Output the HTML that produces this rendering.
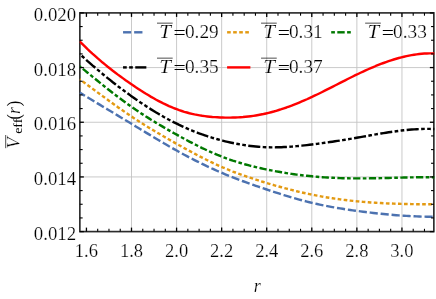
<!DOCTYPE html>
<html><head><meta charset="utf-8"><title>plot</title>
<style>
html,body{margin:0;padding:0;background:#fff;}
svg{display:block;}
text{font-family:"Liberation Serif",serif;font-size:18px;fill:#000;}
.th{stroke:#fff;stroke-width:0.2px;}
.it{font-style:italic;}
</style></head><body>
<svg width="436" height="299" viewBox="0 0 436 299">
<rect width="436" height="299" fill="#fff"/>

<g stroke="#c4c4c4" stroke-width="0.9" fill="none">
<line x1="131.50" y1="12.9" x2="131.50" y2="231.6"/>
<line x1="176.58" y1="12.9" x2="176.58" y2="231.6"/>
<line x1="221.65" y1="12.9" x2="221.65" y2="231.6"/>
<line x1="266.72" y1="12.9" x2="266.72" y2="231.6"/>
<line x1="311.79" y1="12.9" x2="311.79" y2="231.6"/>
<line x1="356.87" y1="12.9" x2="356.87" y2="231.6"/>
<line x1="401.94" y1="12.9" x2="401.94" y2="231.6"/>
<line x1="79.85" y1="176.93" x2="433.85" y2="176.93"/>
<line x1="79.85" y1="122.25" x2="433.85" y2="122.25"/>
<line x1="79.85" y1="67.58" x2="433.85" y2="67.58"/>
</g>
<rect x="79.85" y="12.9" width="354.00" height="218.70" fill="none" stroke="#2c2c2c" stroke-width="1.65"/>
<clipPath id="c"><rect x="79.65" y="12.9" width="354.90" height="218.70"/></clipPath>
<g clip-path="url(#c)" fill="none" stroke-linecap="butt" stroke-linejoin="round">
<path d="M79.6,92.58 L82.2,94.13 L84.8,95.67 L87.3,97.22 L89.9,98.76 L92.4,100.30 L95.0,101.83 L97.5,103.37 L100.1,104.90 L102.6,106.43 L105.2,107.97 L107.7,109.50 L110.3,111.03 L112.8,112.56 L115.4,114.10 L117.9,115.63 L120.5,117.17 L123.1,118.70 L125.6,120.24 L128.2,121.78 L130.7,123.32 L133.3,124.87 L135.8,126.41 L138.4,127.96 L140.9,129.51 L143.5,131.06 L146.0,132.60 L148.6,134.14 L151.1,135.68 L153.7,137.21 L156.2,138.73 L158.8,140.25 L161.4,141.76 L163.9,143.26 L166.5,144.74 L169.0,146.22 L171.6,147.68 L174.1,149.12 L176.7,150.55 L179.2,151.97 L181.8,153.37 L184.3,154.75 L186.9,156.11 L189.4,157.46 L192.0,158.78 L194.5,160.09 L197.1,161.38 L199.7,162.66 L202.2,163.91 L204.8,165.14 L207.3,166.36 L209.9,167.55 L212.4,168.73 L215.0,169.88 L217.5,171.01 L220.1,172.13 L222.6,173.22 L225.2,174.29 L227.7,175.34 L230.3,176.37 L232.8,177.38 L235.4,178.37 L238.0,179.35 L240.5,180.31 L243.1,181.26 L245.6,182.20 L248.2,183.12 L250.7,184.02 L253.3,184.92 L255.8,185.81 L258.4,186.69 L260.9,187.56 L263.5,188.42 L266.0,189.27 L268.6,190.12 L271.1,190.96 L273.7,191.80 L276.2,192.62 L278.8,193.44 L281.4,194.25 L283.9,195.05 L286.5,195.83 L289.0,196.61 L291.6,197.37 L294.1,198.11 L296.7,198.84 L299.2,199.56 L301.8,200.25 L304.3,200.93 L306.9,201.59 L309.4,202.23 L312.0,202.85 L314.5,203.45 L317.1,204.02 L319.7,204.58 L322.2,205.12 L324.8,205.63 L327.3,206.14 L329.9,206.62 L332.4,207.09 L335.0,207.54 L337.5,207.98 L340.1,208.40 L342.6,208.81 L345.2,209.21 L347.7,209.60 L350.3,209.98 L352.8,210.34 L355.4,210.70 L358.0,211.05 L360.5,211.39 L363.1,211.72 L365.6,212.04 L368.2,212.36 L370.7,212.66 L373.3,212.96 L375.8,213.25 L378.4,213.52 L380.9,213.79 L383.5,214.05 L386.0,214.30 L388.6,214.54 L391.1,214.76 L393.7,214.98 L396.3,215.18 L398.8,215.38 L401.4,215.56 L403.9,215.73 L406.5,215.89 L409.0,216.04 L411.6,216.17 L414.1,216.29 L416.7,216.40 L419.2,216.50 L421.8,216.59 L424.3,216.66 L426.9,216.71 L429.4,216.76 L432.0,216.79 L434.6,216.80" stroke="#4C72B0" stroke-width="2.42" stroke-dasharray="8.15,2.85" stroke-dashoffset="1.9"/>
<path d="M79.6,79.25 L82.2,81.11 L84.8,82.98 L87.3,84.85 L89.9,86.73 L92.4,88.61 L95.0,90.49 L97.5,92.36 L100.1,94.24 L102.6,96.11 L105.2,97.97 L107.7,99.83 L110.3,101.68 L112.8,103.52 L115.4,105.35 L117.9,107.16 L120.5,108.96 L123.1,110.74 L125.6,112.51 L128.2,114.25 L130.7,115.97 L133.3,117.67 L135.8,119.35 L138.4,121.00 L140.9,122.64 L143.5,124.25 L146.0,125.85 L148.6,127.43 L151.1,128.99 L153.7,130.53 L156.2,132.06 L158.8,133.58 L161.4,135.08 L163.9,136.57 L166.5,138.04 L169.0,139.51 L171.6,140.97 L174.1,142.41 L176.7,143.85 L179.2,145.29 L181.8,146.71 L184.3,148.13 L186.9,149.53 L189.4,150.92 L192.0,152.30 L194.5,153.66 L197.1,155.01 L199.7,156.34 L202.2,157.65 L204.8,158.94 L207.3,160.21 L209.9,161.46 L212.4,162.69 L215.0,163.89 L217.5,165.06 L220.1,166.21 L222.6,167.33 L225.2,168.42 L227.7,169.48 L230.3,170.51 L232.8,171.52 L235.4,172.50 L238.0,173.46 L240.5,174.40 L243.1,175.32 L245.6,176.21 L248.2,177.09 L250.7,177.95 L253.3,178.79 L255.8,179.62 L258.4,180.43 L260.9,181.23 L263.5,182.02 L266.0,182.79 L268.6,183.56 L271.1,184.31 L273.7,185.06 L276.2,185.79 L278.8,186.51 L281.4,187.22 L283.9,187.92 L286.5,188.60 L289.0,189.27 L291.6,189.93 L294.1,190.57 L296.7,191.20 L299.2,191.82 L301.8,192.41 L304.3,193.00 L306.9,193.56 L309.4,194.11 L312.0,194.64 L314.5,195.15 L317.1,195.65 L319.7,196.13 L322.2,196.59 L324.8,197.04 L327.3,197.46 L329.9,197.88 L332.4,198.27 L335.0,198.65 L337.5,199.02 L340.1,199.37 L342.6,199.70 L345.2,200.02 L347.7,200.33 L350.3,200.62 L352.8,200.89 L355.4,201.16 L358.0,201.40 L360.5,201.64 L363.1,201.86 L365.6,202.07 L368.2,202.27 L370.7,202.45 L373.3,202.63 L375.8,202.79 L378.4,202.94 L380.9,203.08 L383.5,203.22 L386.0,203.34 L388.6,203.45 L391.1,203.55 L393.7,203.65 L396.3,203.73 L398.8,203.81 L401.4,203.88 L403.9,203.95 L406.5,204.01 L409.0,204.06 L411.6,204.10 L414.1,204.14 L416.7,204.18 L419.2,204.21 L421.8,204.23 L424.3,204.25 L426.9,204.27 L429.4,204.28 L432.0,204.29 L434.6,204.30" stroke="#E39A12" stroke-width="2.42" stroke-dasharray="3.63,2.42" stroke-dashoffset="2.4"/>
<path d="M79.6,66.24 L82.2,68.32 L84.8,70.40 L87.3,72.48 L89.9,74.56 L92.4,76.64 L95.0,78.72 L97.5,80.78 L100.1,82.84 L102.6,84.89 L105.2,86.93 L107.7,88.95 L110.3,90.96 L112.8,92.95 L115.4,94.92 L117.9,96.87 L120.5,98.79 L123.1,100.70 L125.6,102.58 L128.2,104.42 L130.7,106.24 L133.3,108.03 L135.8,109.79 L138.4,111.52 L140.9,113.21 L143.5,114.89 L146.0,116.53 L148.6,118.15 L151.1,119.75 L153.7,121.32 L156.2,122.87 L158.8,124.40 L161.4,125.91 L163.9,127.41 L166.5,128.89 L169.0,130.35 L171.6,131.80 L174.1,133.23 L176.7,134.65 L179.2,136.07 L181.8,137.47 L184.3,138.85 L186.9,140.22 L189.4,141.58 L192.0,142.91 L194.5,144.23 L197.1,145.52 L199.7,146.80 L202.2,148.05 L204.8,149.27 L207.3,150.46 L209.9,151.63 L212.4,152.77 L215.0,153.87 L217.5,154.94 L220.1,155.98 L222.6,156.98 L225.2,157.94 L227.7,158.87 L230.3,159.77 L232.8,160.63 L235.4,161.46 L238.0,162.26 L240.5,163.03 L243.1,163.77 L245.6,164.48 L248.2,165.17 L250.7,165.83 L253.3,166.47 L255.8,167.09 L258.4,167.68 L260.9,168.26 L263.5,168.82 L266.0,169.36 L268.6,169.88 L271.1,170.39 L273.7,170.88 L276.2,171.35 L278.8,171.81 L281.4,172.26 L283.9,172.68 L286.5,173.09 L289.0,173.49 L291.6,173.87 L294.1,174.23 L296.7,174.58 L299.2,174.91 L301.8,175.22 L304.3,175.52 L306.9,175.80 L309.4,176.07 L312.0,176.32 L314.5,176.55 L317.1,176.77 L319.7,176.98 L322.2,177.17 L324.8,177.34 L327.3,177.50 L329.9,177.64 L332.4,177.78 L335.0,177.89 L337.5,178.00 L340.1,178.09 L342.6,178.17 L345.2,178.24 L347.7,178.29 L350.3,178.34 L352.8,178.37 L355.4,178.39 L358.0,178.40 L360.5,178.40 L363.1,178.40 L365.6,178.38 L368.2,178.35 L370.7,178.32 L373.3,178.28 L375.8,178.24 L378.4,178.18 L380.9,178.13 L383.5,178.07 L386.0,178.01 L388.6,177.95 L391.1,177.88 L393.7,177.81 L396.3,177.75 L398.8,177.68 L401.4,177.61 L403.9,177.55 L406.5,177.49 L409.0,177.43 L411.6,177.38 L414.1,177.33 L416.7,177.29 L419.2,177.25 L421.8,177.22 L424.3,177.20 L426.9,177.19 L429.4,177.18 L432.0,177.19 L434.6,177.21" stroke="#007800" stroke-width="2.42" stroke-dasharray="7.26,2.42,3.63,2.42" stroke-dashoffset="11.6"/>
<path d="M79.6,53.92 L82.2,56.24 L84.8,58.54 L87.3,60.82 L89.9,63.07 L92.4,65.30 L95.0,67.50 L97.5,69.68 L100.1,71.83 L102.6,73.95 L105.2,76.05 L107.7,78.13 L110.3,80.17 L112.8,82.20 L115.4,84.20 L117.9,86.17 L120.5,88.11 L123.1,90.03 L125.6,91.93 L128.2,93.79 L130.7,95.64 L133.3,97.45 L135.8,99.24 L138.4,101.00 L140.9,102.73 L143.5,104.44 L146.0,106.11 L148.6,107.76 L151.1,109.37 L153.7,110.96 L156.2,112.51 L158.8,114.03 L161.4,115.51 L163.9,116.97 L166.5,118.38 L169.0,119.77 L171.6,121.11 L174.1,122.42 L176.7,123.70 L179.2,124.93 L181.8,126.13 L184.3,127.29 L186.9,128.42 L189.4,129.51 L192.0,130.56 L194.5,131.58 L197.1,132.57 L199.7,133.52 L202.2,134.44 L204.8,135.33 L207.3,136.18 L209.9,137.00 L212.4,137.79 L215.0,138.55 L217.5,139.28 L220.1,139.98 L222.6,140.65 L225.2,141.30 L227.7,141.91 L230.3,142.49 L232.8,143.04 L235.4,143.56 L238.0,144.05 L240.5,144.51 L243.1,144.93 L245.6,145.32 L248.2,145.68 L250.7,146.01 L253.3,146.30 L255.8,146.55 L258.4,146.77 L260.9,146.96 L263.5,147.11 L266.0,147.23 L268.6,147.30 L271.1,147.35 L273.7,147.35 L276.2,147.33 L278.8,147.27 L281.4,147.19 L283.9,147.08 L286.5,146.94 L289.0,146.78 L291.6,146.59 L294.1,146.38 L296.7,146.16 L299.2,145.91 L301.8,145.65 L304.3,145.38 L306.9,145.09 L309.4,144.79 L312.0,144.48 L314.5,144.16 L317.1,143.83 L319.7,143.49 L322.2,143.15 L324.8,142.79 L327.3,142.43 L329.9,142.07 L332.4,141.69 L335.0,141.31 L337.5,140.92 L340.1,140.52 L342.6,140.12 L345.2,139.71 L347.7,139.29 L350.3,138.87 L352.8,138.44 L355.4,138.00 L358.0,137.56 L360.5,137.12 L363.1,136.67 L365.6,136.21 L368.2,135.76 L370.7,135.31 L373.3,134.86 L375.8,134.42 L378.4,133.98 L380.9,133.55 L383.5,133.13 L386.0,132.72 L388.6,132.32 L391.1,131.94 L393.7,131.57 L396.3,131.22 L398.8,130.88 L401.4,130.57 L403.9,130.28 L406.5,130.01 L409.0,129.76 L411.6,129.55 L414.1,129.36 L416.7,129.19 L419.2,129.07 L421.8,128.97 L424.3,128.91 L426.9,128.88 L429.4,128.89 L432.0,128.94 L434.6,129.03" stroke="#000000" stroke-width="2.42" stroke-dasharray="3.63,2.42,3.63,2.42,12.10,2.42" stroke-dashoffset="3.3"/>
<path d="M79.6,41.30 L82.2,43.87 L84.8,46.39 L87.3,48.86 L89.9,51.27 L92.4,53.62 L95.0,55.93 L97.5,58.18 L100.1,60.39 L102.6,62.55 L105.2,64.66 L107.7,66.73 L110.3,68.76 L112.8,70.76 L115.4,72.71 L117.9,74.63 L120.5,76.52 L123.1,78.37 L125.6,80.20 L128.2,81.99 L130.7,83.76 L133.3,85.50 L135.8,87.22 L138.4,88.91 L140.9,90.56 L143.5,92.19 L146.0,93.78 L148.6,95.33 L151.1,96.84 L153.7,98.31 L156.2,99.73 L158.8,101.11 L161.4,102.44 L163.9,103.71 L166.5,104.94 L169.0,106.10 L171.6,107.21 L174.1,108.25 L176.7,109.24 L179.2,110.15 L181.8,111.01 L184.3,111.80 L186.9,112.53 L189.4,113.21 L192.0,113.82 L194.5,114.39 L197.1,114.90 L199.7,115.36 L202.2,115.77 L204.8,116.13 L207.3,116.45 L209.9,116.73 L212.4,116.97 L215.0,117.16 L217.5,117.32 L220.1,117.44 L222.6,117.53 L225.2,117.59 L227.7,117.61 L230.3,117.59 L232.8,117.55 L235.4,117.46 L238.0,117.35 L240.5,117.19 L243.1,117.00 L245.6,116.76 L248.2,116.49 L250.7,116.18 L253.3,115.83 L255.8,115.44 L258.4,115.01 L260.9,114.54 L263.5,114.02 L266.0,113.46 L268.6,112.85 L271.1,112.21 L273.7,111.52 L276.2,110.79 L278.8,110.02 L281.4,109.21 L283.9,108.36 L286.5,107.48 L289.0,106.56 L291.6,105.61 L294.1,104.62 L296.7,103.60 L299.2,102.56 L301.8,101.48 L304.3,100.38 L306.9,99.25 L309.4,98.09 L312.0,96.91 L314.5,95.70 L317.1,94.48 L319.7,93.23 L322.2,91.97 L324.8,90.70 L327.3,89.41 L329.9,88.12 L332.4,86.81 L335.0,85.51 L337.5,84.20 L340.1,82.90 L342.6,81.59 L345.2,80.30 L347.7,79.01 L350.3,77.73 L352.8,76.46 L355.4,75.21 L358.0,73.98 L360.5,72.76 L363.1,71.57 L365.6,70.40 L368.2,69.26 L370.7,68.14 L373.3,67.05 L375.8,65.99 L378.4,64.96 L380.9,63.96 L383.5,63.00 L386.0,62.07 L388.6,61.18 L391.1,60.33 L393.7,59.52 L396.3,58.75 L398.8,58.03 L401.4,57.35 L403.9,56.72 L406.5,56.14 L409.0,55.60 L411.6,55.12 L414.1,54.70 L416.7,54.33 L419.2,54.02 L421.8,53.76 L424.3,53.57 L426.9,53.43 L429.4,53.37 L432.0,53.36 L434.6,53.42" stroke="#FF0000" stroke-width="2.42"/>
</g>
<g stroke="#000" fill="none">
<line x1="86.43" y1="231.6" x2="86.43" y2="227.60" stroke-width="1.3"/>
<line x1="86.43" y1="12.9" x2="86.43" y2="16.90" stroke-width="1.3"/>
<line x1="97.70" y1="231.6" x2="97.70" y2="228.80" stroke-width="1.1"/>
<line x1="97.70" y1="12.9" x2="97.70" y2="15.70" stroke-width="1.1"/>
<line x1="108.97" y1="231.6" x2="108.97" y2="228.80" stroke-width="1.1"/>
<line x1="108.97" y1="12.9" x2="108.97" y2="15.70" stroke-width="1.1"/>
<line x1="120.24" y1="231.6" x2="120.24" y2="228.80" stroke-width="1.1"/>
<line x1="120.24" y1="12.9" x2="120.24" y2="15.70" stroke-width="1.1"/>
<line x1="131.50" y1="231.6" x2="131.50" y2="227.60" stroke-width="1.3"/>
<line x1="131.50" y1="12.9" x2="131.50" y2="16.90" stroke-width="1.3"/>
<line x1="142.77" y1="231.6" x2="142.77" y2="228.80" stroke-width="1.1"/>
<line x1="142.77" y1="12.9" x2="142.77" y2="15.70" stroke-width="1.1"/>
<line x1="154.04" y1="231.6" x2="154.04" y2="228.80" stroke-width="1.1"/>
<line x1="154.04" y1="12.9" x2="154.04" y2="15.70" stroke-width="1.1"/>
<line x1="165.31" y1="231.6" x2="165.31" y2="228.80" stroke-width="1.1"/>
<line x1="165.31" y1="12.9" x2="165.31" y2="15.70" stroke-width="1.1"/>
<line x1="176.58" y1="231.6" x2="176.58" y2="227.60" stroke-width="1.3"/>
<line x1="176.58" y1="12.9" x2="176.58" y2="16.90" stroke-width="1.3"/>
<line x1="187.84" y1="231.6" x2="187.84" y2="228.80" stroke-width="1.1"/>
<line x1="187.84" y1="12.9" x2="187.84" y2="15.70" stroke-width="1.1"/>
<line x1="199.11" y1="231.6" x2="199.11" y2="228.80" stroke-width="1.1"/>
<line x1="199.11" y1="12.9" x2="199.11" y2="15.70" stroke-width="1.1"/>
<line x1="210.38" y1="231.6" x2="210.38" y2="228.80" stroke-width="1.1"/>
<line x1="210.38" y1="12.9" x2="210.38" y2="15.70" stroke-width="1.1"/>
<line x1="221.65" y1="231.6" x2="221.65" y2="227.60" stroke-width="1.3"/>
<line x1="221.65" y1="12.9" x2="221.65" y2="16.90" stroke-width="1.3"/>
<line x1="232.92" y1="231.6" x2="232.92" y2="228.80" stroke-width="1.1"/>
<line x1="232.92" y1="12.9" x2="232.92" y2="15.70" stroke-width="1.1"/>
<line x1="244.19" y1="231.6" x2="244.19" y2="228.80" stroke-width="1.1"/>
<line x1="244.19" y1="12.9" x2="244.19" y2="15.70" stroke-width="1.1"/>
<line x1="255.45" y1="231.6" x2="255.45" y2="228.80" stroke-width="1.1"/>
<line x1="255.45" y1="12.9" x2="255.45" y2="15.70" stroke-width="1.1"/>
<line x1="266.72" y1="231.6" x2="266.72" y2="227.60" stroke-width="1.3"/>
<line x1="266.72" y1="12.9" x2="266.72" y2="16.90" stroke-width="1.3"/>
<line x1="277.99" y1="231.6" x2="277.99" y2="228.80" stroke-width="1.1"/>
<line x1="277.99" y1="12.9" x2="277.99" y2="15.70" stroke-width="1.1"/>
<line x1="289.26" y1="231.6" x2="289.26" y2="228.80" stroke-width="1.1"/>
<line x1="289.26" y1="12.9" x2="289.26" y2="15.70" stroke-width="1.1"/>
<line x1="300.53" y1="231.6" x2="300.53" y2="228.80" stroke-width="1.1"/>
<line x1="300.53" y1="12.9" x2="300.53" y2="15.70" stroke-width="1.1"/>
<line x1="311.79" y1="231.6" x2="311.79" y2="227.60" stroke-width="1.3"/>
<line x1="311.79" y1="12.9" x2="311.79" y2="16.90" stroke-width="1.3"/>
<line x1="323.06" y1="231.6" x2="323.06" y2="228.80" stroke-width="1.1"/>
<line x1="323.06" y1="12.9" x2="323.06" y2="15.70" stroke-width="1.1"/>
<line x1="334.33" y1="231.6" x2="334.33" y2="228.80" stroke-width="1.1"/>
<line x1="334.33" y1="12.9" x2="334.33" y2="15.70" stroke-width="1.1"/>
<line x1="345.60" y1="231.6" x2="345.60" y2="228.80" stroke-width="1.1"/>
<line x1="345.60" y1="12.9" x2="345.60" y2="15.70" stroke-width="1.1"/>
<line x1="356.87" y1="231.6" x2="356.87" y2="227.60" stroke-width="1.3"/>
<line x1="356.87" y1="12.9" x2="356.87" y2="16.90" stroke-width="1.3"/>
<line x1="368.14" y1="231.6" x2="368.14" y2="228.80" stroke-width="1.1"/>
<line x1="368.14" y1="12.9" x2="368.14" y2="15.70" stroke-width="1.1"/>
<line x1="379.40" y1="231.6" x2="379.40" y2="228.80" stroke-width="1.1"/>
<line x1="379.40" y1="12.9" x2="379.40" y2="15.70" stroke-width="1.1"/>
<line x1="390.67" y1="231.6" x2="390.67" y2="228.80" stroke-width="1.1"/>
<line x1="390.67" y1="12.9" x2="390.67" y2="15.70" stroke-width="1.1"/>
<line x1="401.94" y1="231.6" x2="401.94" y2="227.60" stroke-width="1.3"/>
<line x1="401.94" y1="12.9" x2="401.94" y2="16.90" stroke-width="1.3"/>
<line x1="413.21" y1="231.6" x2="413.21" y2="228.80" stroke-width="1.1"/>
<line x1="413.21" y1="12.9" x2="413.21" y2="15.70" stroke-width="1.1"/>
<line x1="424.48" y1="231.6" x2="424.48" y2="228.80" stroke-width="1.1"/>
<line x1="424.48" y1="12.9" x2="424.48" y2="15.70" stroke-width="1.1"/>
<line x1="79.85" y1="231.60" x2="83.85" y2="231.60" stroke-width="1.3"/>
<line x1="433.85" y1="231.60" x2="429.85" y2="231.60" stroke-width="1.3"/>
<line x1="79.85" y1="217.93" x2="82.65" y2="217.93" stroke-width="1.1"/>
<line x1="433.85" y1="217.93" x2="431.05" y2="217.93" stroke-width="1.1"/>
<line x1="79.85" y1="204.26" x2="82.65" y2="204.26" stroke-width="1.1"/>
<line x1="433.85" y1="204.26" x2="431.05" y2="204.26" stroke-width="1.1"/>
<line x1="79.85" y1="190.59" x2="82.65" y2="190.59" stroke-width="1.1"/>
<line x1="433.85" y1="190.59" x2="431.05" y2="190.59" stroke-width="1.1"/>
<line x1="79.85" y1="176.93" x2="83.85" y2="176.93" stroke-width="1.3"/>
<line x1="433.85" y1="176.93" x2="429.85" y2="176.93" stroke-width="1.3"/>
<line x1="79.85" y1="163.26" x2="82.65" y2="163.26" stroke-width="1.1"/>
<line x1="433.85" y1="163.26" x2="431.05" y2="163.26" stroke-width="1.1"/>
<line x1="79.85" y1="149.59" x2="82.65" y2="149.59" stroke-width="1.1"/>
<line x1="433.85" y1="149.59" x2="431.05" y2="149.59" stroke-width="1.1"/>
<line x1="79.85" y1="135.92" x2="82.65" y2="135.92" stroke-width="1.1"/>
<line x1="433.85" y1="135.92" x2="431.05" y2="135.92" stroke-width="1.1"/>
<line x1="79.85" y1="122.25" x2="83.85" y2="122.25" stroke-width="1.3"/>
<line x1="433.85" y1="122.25" x2="429.85" y2="122.25" stroke-width="1.3"/>
<line x1="79.85" y1="108.58" x2="82.65" y2="108.58" stroke-width="1.1"/>
<line x1="433.85" y1="108.58" x2="431.05" y2="108.58" stroke-width="1.1"/>
<line x1="79.85" y1="94.91" x2="82.65" y2="94.91" stroke-width="1.1"/>
<line x1="433.85" y1="94.91" x2="431.05" y2="94.91" stroke-width="1.1"/>
<line x1="79.85" y1="81.24" x2="82.65" y2="81.24" stroke-width="1.1"/>
<line x1="433.85" y1="81.24" x2="431.05" y2="81.24" stroke-width="1.1"/>
<line x1="79.85" y1="67.57" x2="83.85" y2="67.57" stroke-width="1.3"/>
<line x1="433.85" y1="67.57" x2="429.85" y2="67.57" stroke-width="1.3"/>
<line x1="79.85" y1="53.91" x2="82.65" y2="53.91" stroke-width="1.1"/>
<line x1="433.85" y1="53.91" x2="431.05" y2="53.91" stroke-width="1.1"/>
<line x1="79.85" y1="40.24" x2="82.65" y2="40.24" stroke-width="1.1"/>
<line x1="433.85" y1="40.24" x2="431.05" y2="40.24" stroke-width="1.1"/>
<line x1="79.85" y1="26.57" x2="82.65" y2="26.57" stroke-width="1.1"/>
<line x1="433.85" y1="26.57" x2="431.05" y2="26.57" stroke-width="1.1"/>
<line x1="79.85" y1="12.90" x2="83.85" y2="12.90" stroke-width="1.3"/>
<line x1="433.85" y1="12.90" x2="429.85" y2="12.90" stroke-width="1.3"/>
</g>
<g style="filter:grayscale(1)">
<text class="th" transform="translate(86.43,256.8) scale(1.03,1)" x="0" y="0" text-anchor="middle">1.6</text>
<text class="th" transform="translate(131.50,256.8) scale(1.03,1)" x="0" y="0" text-anchor="middle">1.8</text>
<text class="th" transform="translate(176.58,256.8) scale(1.03,1)" x="0" y="0" text-anchor="middle">2.0</text>
<text class="th" transform="translate(221.65,256.8) scale(1.03,1)" x="0" y="0" text-anchor="middle">2.2</text>
<text class="th" transform="translate(266.72,256.8) scale(1.03,1)" x="0" y="0" text-anchor="middle">2.4</text>
<text class="th" transform="translate(311.79,256.8) scale(1.03,1)" x="0" y="0" text-anchor="middle">2.6</text>
<text class="th" transform="translate(356.87,256.8) scale(1.03,1)" x="0" y="0" text-anchor="middle">2.8</text>
<text class="th" transform="translate(401.94,256.8) scale(1.03,1)" x="0" y="0" text-anchor="middle">3.0</text>
<text class="th" transform="translate(76.2,239.65) scale(1.05,1)" x="0" y="0" text-anchor="end">0.012</text>
<text class="th" transform="translate(76.2,184.98) scale(1.05,1)" x="0" y="0" text-anchor="end">0.014</text>
<text class="th" transform="translate(76.2,130.30) scale(1.05,1)" x="0" y="0" text-anchor="end">0.016</text>
<text class="th" transform="translate(76.2,75.63) scale(1.05,1)" x="0" y="0" text-anchor="end">0.018</text>
<text class="th" transform="translate(76.2,20.95) scale(1.05,1)" x="0" y="0" text-anchor="end">0.020</text>
<text class="it th" x="257.2" y="291.5" text-anchor="middle">r</text>
<g transform="translate(20,148.5) rotate(-90)"><text class="it th" x="0" y="0">V</text><line x1="0.3" y1="-14.3" x2="13.5" y2="-14.3" stroke="#000" stroke-width="0.7"/><text transform="translate(14.7,2.3) scale(1.1,1)" x="0" y="0" style="font-size:12.6px">eff</text><text transform="translate(29.0,0.3) scale(0.9,1.07)" x="0" y="0">(</text><text class="it th" x="34.6" y="0">r</text><text transform="translate(42.3,0.3) scale(0.9,1.07)" x="0" y="0">)</text></g>
<line x1="157.00" y1="23.15" x2="172.70" y2="23.15" stroke="#000" stroke-width="0.7"/>
<text class="it th" transform="translate(159.30,38.1) scale(1.17,1)" x="0" y="0">T</text>
<text transform="translate(173.60,39.00) scale(1.2,1.08)" x="0" y="0">=</text>
<text class="th" transform="translate(184.90,38.300000000000004) scale(1.075,1)" x="0" y="0">0.29</text>
<line x1="261.05" y1="23.15" x2="276.75" y2="23.15" stroke="#000" stroke-width="0.7"/>
<text class="it th" transform="translate(263.35,38.1) scale(1.17,1)" x="0" y="0">T</text>
<text transform="translate(277.65,39.00) scale(1.2,1.08)" x="0" y="0">=</text>
<text class="th" transform="translate(288.95,38.300000000000004) scale(1.075,1)" x="0" y="0">0.31</text>
<line x1="365.15" y1="23.15" x2="380.85" y2="23.15" stroke="#000" stroke-width="0.7"/>
<text class="it th" transform="translate(367.45,38.1) scale(1.17,1)" x="0" y="0">T</text>
<text transform="translate(381.75,39.00) scale(1.2,1.08)" x="0" y="0">=</text>
<text class="th" transform="translate(393.05,38.300000000000004) scale(1.075,1)" x="0" y="0">0.33</text>
<line x1="157.00" y1="58.15" x2="172.70" y2="58.15" stroke="#000" stroke-width="0.7"/>
<text class="it th" transform="translate(159.30,73.1) scale(1.17,1)" x="0" y="0">T</text>
<text transform="translate(173.60,74.00) scale(1.2,1.08)" x="0" y="0">=</text>
<text class="th" transform="translate(184.90,73.3) scale(1.075,1)" x="0" y="0">0.35</text>
<line x1="261.05" y1="58.15" x2="276.75" y2="58.15" stroke="#000" stroke-width="0.7"/>
<text class="it th" transform="translate(263.35,73.1) scale(1.17,1)" x="0" y="0">T</text>
<text transform="translate(277.65,74.00) scale(1.2,1.08)" x="0" y="0">=</text>
<text class="th" transform="translate(288.95,73.3) scale(1.075,1)" x="0" y="0">0.37</text>
</g>
<line x1="123.05" y1="32.3" x2="131.15" y2="32.3" stroke="#4C72B0" stroke-width="2.42"/>
<line x1="134.15" y1="32.3" x2="142.45" y2="32.3" stroke="#4C72B0" stroke-width="2.42"/>
<line x1="227.10" y1="32.3" x2="230.73" y2="32.3" stroke="#E39A12" stroke-width="2.42"/>
<line x1="233.15" y1="32.3" x2="236.78" y2="32.3" stroke="#E39A12" stroke-width="2.42"/>
<line x1="239.20" y1="32.3" x2="242.83" y2="32.3" stroke="#E39A12" stroke-width="2.42"/>
<line x1="245.25" y1="32.3" x2="248.88" y2="32.3" stroke="#E39A12" stroke-width="2.42"/>
<line x1="331.20" y1="32.3" x2="334.90" y2="32.3" stroke="#007800" stroke-width="2.42"/>
<line x1="337.30" y1="32.3" x2="344.70" y2="32.3" stroke="#007800" stroke-width="2.42"/>
<line x1="347.10" y1="32.3" x2="350.80" y2="32.3" stroke="#007800" stroke-width="2.42"/>
<line x1="123.05" y1="67.4" x2="126.75" y2="67.4" stroke="#000000" stroke-width="2.42"/>
<line x1="129.15" y1="67.4" x2="132.85" y2="67.4" stroke="#000000" stroke-width="2.42"/>
<line x1="135.25" y1="67.4" x2="146.35" y2="67.4" stroke="#000000" stroke-width="2.42"/>
<line x1="227.10" y1="67.4" x2="250.40" y2="67.4" stroke="#FF0000" stroke-width="2.42"/>
</svg></body></html>
